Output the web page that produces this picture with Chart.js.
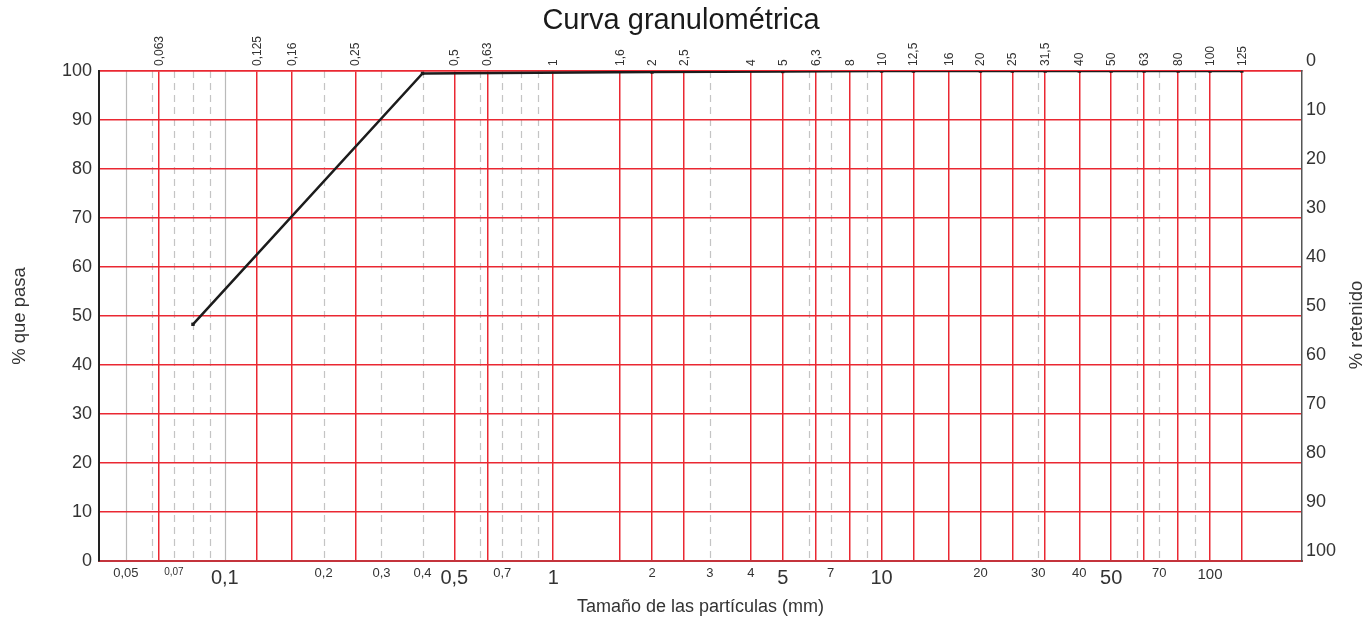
<!DOCTYPE html>
<html>
<head>
<meta charset="utf-8">
<title>Curva granulométrica</title>
<script src="https://cdn.jsdelivr.net/npm/chart.js@4.4.1/dist/chart.umd.min.js"></script>
<style>
  html, body { margin: 0; padding: 0; background: #ffffff; }
  #wrap { width: 1371px; height: 625px; position: relative; }
</style>
</head>
<body>
<div id="wrap"><canvas id="grading"></canvas></div>
<script>
// Sieve openings (mm), labelled along the top edge
const sieveSizes = [0.063, 0.125, 0.16, 0.25, 0.5, 0.63, 1, 1.6, 2, 2.5, 4, 5, 6.3, 8, 10, 12.5, 16, 20, 25, 31.5, 40, 50, 63, 80, 100, 125];
const sieveLabels = ['0,063', '0,125', '0,16', '0,25', '0,5', '0,63', '1', '1,6', '2', '2,5', '4', '5', '6,3', '8', '10', '12,5', '16', '20', '25', '31,5', '40', '50', '63', '80', '100', '125'];

// Size scale values, labelled along the bottom edge
const sizeTicks = [0.05, 0.07, 0.1, 0.2, 0.3, 0.4, 0.5, 0.7, 1, 2, 3, 4, 5, 7, 10, 20, 30, 40, 50, 70, 100];
const sizeLabels = ['0,05', '0,07', '0,1', '0,2', '0,3', '0,4', '0,5', '0,7', '1', '2', '3', '4', '5', '7', '10', '20', '30', '40', '50', '70', '100'];

// Percentage ticks (passing on the left, retained on the right)
const percentTicks = [0, 10, 20, 30, 40, 50, 60, 70, 80, 90, 100];

// Measured grading curve
const particleSize = [0.08, 0.4, 2, 5, 10, 12.5, 20, 25, 31.5, 40, 50, 63, 80, 100, 125];
const percentPassing = [48.3, 99.5, 99.8, 99.9, 100, 100, 100, 100, 100, 100, 100, 100, 100, 100, 100];

// Extent of the size axis (mm)
const sizeMin = 0.0414;
const sizeMax = 190.6;

const FONT = "'Liberation Sans', Arial, Helvetica, sans-serif";
const RED = 'rgb(234, 40, 50)';
const RED_DARK = 'rgb(196, 52, 60)';
const TEXT = '#333333';

// Larger type for the principal values of the bottom scale
function bottomFontSize(v) {
  if ([0.1, 0.5, 1, 5, 10, 50].includes(v)) return 20;
  if (v === 0.07) return 10;
  if (v === 100) return 15;
  return 13;
}

// Light grey log-cycle lines behind the sieve lines, plus the chart heading
const minorGrid = {
  id: 'minorGrid',
  beforeDraw(chart) {
    const { ctx, chartArea, scales } = chart;
    const x = scales.x;
    ctx.save();
    for (let k = -2; k <= 2; k++) {
      for (let m = 1; m <= 9; m++) {
        const v = +(m * Math.pow(10, k)).toPrecision(3);
        if (v < sizeMin || v > sizeMax) continue;
        if (sieveSizes.includes(v)) continue;
        const px = Math.round(x.getPixelForValue(v)) + 0.5;
        const solid = (m === 1 || m === 5);
        ctx.beginPath();
        ctx.lineWidth = 1.2;
        ctx.strokeStyle = solid ? 'rgb(186,186,186)' : 'rgb(196,196,196)';
        ctx.setLineDash(solid ? [] : [7, 5]);
        ctx.moveTo(px, chartArea.top);
        ctx.lineTo(px, chartArea.bottom);
        ctx.stroke();
      }
    }
    ctx.restore();
  },
  afterDraw(chart) {
    const { ctx } = chart;
    ctx.save();
    ctx.fillStyle = '#1a1a1a';
    ctx.textAlign = 'center';
    ctx.textBaseline = 'middle';
    ctx.font = '29px ' + FONT;
    ctx.fillText('Curva granulométrica', 681, 21);
    ctx.fillStyle = TEXT;
    ctx.font = '18.5px ' + FONT;
    ctx.translate(1357, 325);
    ctx.rotate(-Math.PI / 2);
    ctx.fillText('% retenido', 0, 0);
    ctx.restore();
  }
};

const curve = particleSize.map((s, i) => ({ x: s, y: percentPassing[i] }));

new Chart(document.getElementById('grading'), {
  type: 'scatter',
  data: {
    datasets: [{
      data: curve,
      showLine: true,
      borderColor: '#1c1c1c',
      borderWidth: 2.5,
      backgroundColor: '#1c1c1c',
      pointStyle: 'rect',
      pointRadius: 2.4,
      pointBorderWidth: 0,
      tension: 0,
      xAxisID: 'x',
      yAxisID: 'y'
    }]
  },
  options: {
    responsive: true,
    maintainAspectRatio: false,
    animation: false,
    layout: { padding: { top: 35, left: 0, right: 0, bottom: 0 } },
    plugins: {
      legend: { display: false },
      tooltip: { enabled: false },
      title: { display: false }
    },
    scales: {
      x: {
        type: 'logarithmic',
        position: 'bottom',
        min: sizeMin,
        max: sizeMax,
        bounds: 'data',
        afterBuildTicks: (s) => { s.ticks = sizeTicks.map(v => ({ value: v })); },
        afterFit: (s) => { s.height = 64; },
        grid: { display: true, drawOnChartArea: false, drawTicks: false },
        border: { color: RED_DARK, width: 2 },
        ticks: {
          autoSkip: false,
          maxRotation: 0,
          minRotation: 0,
          padding: 5,
          color: TEXT,
          font: (c) => ({ size: bottomFontSize(c.tick ? c.tick.value : 0), family: FONT }),
          callback: (v, i) => sizeLabels[i]
        },
        title: {
          display: true,
          text: 'Tamaño de las partículas (mm)',
          color: TEXT,
          font: { size: 18, family: FONT },
          padding: { top: 0, bottom: 7 }
        }
      },
      xTop: {
        type: 'logarithmic',
        position: 'top',
        min: sizeMin,
        max: sizeMax,
        bounds: 'data',
        afterBuildTicks: (s) => { s.ticks = sieveSizes.map(v => ({ value: v })); },
        afterFit: (s) => { s.height = 36; },
        grid: { color: RED, lineWidth: 1.5, drawTicks: false, drawOnChartArea: true },
        border: { color: RED, width: 1.5 },
        ticks: {
          autoSkip: false,
          minRotation: 90,
          maxRotation: 90,
          padding: 5,
          labelOffset: 15,
          color: TEXT,
          font: { size: 12, family: FONT },
          callback: (v, i) => sieveLabels[i]
        }
      },
      y: {
        type: 'linear',
        position: 'left',
        min: 0,
        max: 100,
        afterBuildTicks: (s) => { s.ticks = percentTicks.map(v => ({ value: v })); },
        afterFit: (s) => { s.width = 99; },
        grid: { color: RED, lineWidth: 1.5, drawTicks: false },
        border: { color: '#222222', width: 2 },
        ticks: { padding: 7, color: TEXT, font: { size: 18, family: FONT } },
        title: {
          display: true,
          text: '% que pasa',
          color: TEXT,
          font: { size: 18.5, family: FONT },
          padding: { top: 9, bottom: 0 }
        }
      },
      y2: {
        type: 'linear',
        position: 'right',
        reverse: true,
        min: 0,
        max: 100,
        afterBuildTicks: (s) => { s.ticks = percentTicks.map(v => ({ value: v })); },
        afterFit: (s) => { s.width = 69; },
        grid: { display: true, drawOnChartArea: false, drawTicks: false },
        border: { color: '#555555', width: 1.5 },
        ticks: { padding: 4, labelOffset: -10, color: TEXT, font: { size: 18, family: FONT } }
      }
    }
  },
  plugins: [minorGrid]
});
</script>
</body>
</html>
